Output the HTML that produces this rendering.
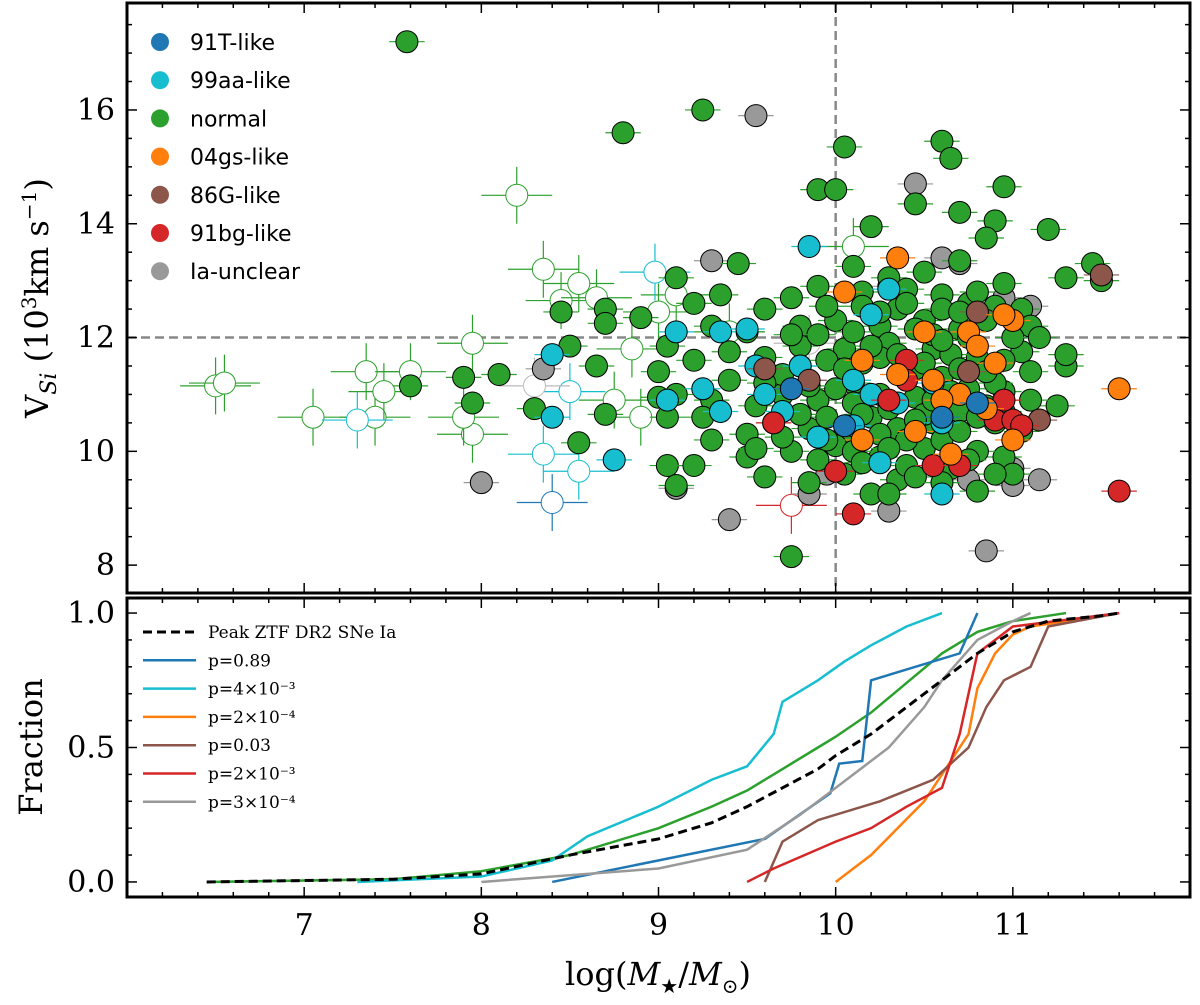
<!DOCTYPE html>
<html><head><meta charset="utf-8"><style>
body{margin:0;background:#fff}
svg text{font-family:"DejaVu Serif","Liberation Serif",serif}
</style></head><body>
<svg id="chart" width="1200" height="1000" xmlns="http://www.w3.org/2000/svg"></svg>
<script>
const xTicks=[7,8,9,10,11];
const yTopTicks=[8,10,12,14,16];
const yBotTicks=[0.0,0.5,1.0];
const yBotLabels=["0.0","0.5","1.0"];
const normalFilled=[[7.58,17.2],[9.25,16.0],[8.8,15.6],[10.05,15.35],[10.6,15.45],[10.65,15.15],[10.45,14.35],[10.7,14.2],[10.95,14.65],[9.9,14.6],[10.0,14.6],[10.2,13.95],[10.9,14.05],[11.2,13.9],[10.85,13.75],[11.3,13.05],[11.45,13.3],[11.5,13.0],[9.45,13.3],[9.1,13.05],[10.1,13.25],[10.3,13.05],[10.5,13.15],[10.7,13.35],[9.9,12.9],[10.15,12.8],[10.4,12.85],[10.6,12.75],[10.75,12.6],[10.9,12.55],[11.05,12.5],[9.2,12.6],[9.35,12.75],[9.6,12.5],[9.75,12.7],[8.45,12.45],[8.7,12.5],[8.9,12.35],[8.7,12.25],[9.3,12.2],[9.5,12.1],[9.8,12.2],[10.0,12.3],[10.25,12.2],[10.5,12.3],[10.7,12.15],[10.85,12.3],[11.1,12.2],[8.1,11.35],[7.9,11.3],[8.5,11.85],[8.65,11.5],[9.05,11.85],[9.2,11.6],[9.4,11.75],[9.6,11.65],[9.8,11.85],[10.05,11.8],[10.3,11.9],[10.55,11.8],[10.8,11.65],[11.05,11.75],[11.3,11.5],[11.3,11.7],[7.6,11.15],[7.95,10.85],[8.3,10.75],[8.55,10.15],[8.7,10.65],[9.0,11.4],[9.1,11.0],[9.3,10.9],[9.55,10.8],[9.7,11.0],[9.9,10.9],[10.1,11.2],[10.25,11.0],[10.45,10.95],[10.6,11.3],[10.75,11.1],[10.95,11.05],[11.25,10.8],[9.05,10.6],[9.25,10.6],[9.5,10.3],[9.65,10.5],[9.85,10.4],[10.05,10.3],[10.2,10.6],[10.35,10.4],[10.55,10.5],[10.7,10.7],[10.9,10.5],[11.05,10.35],[9.05,9.75],[9.1,9.4],[9.5,9.9],[9.6,9.55],[9.75,10.0],[9.85,9.45],[10.05,9.6],[10.25,9.9],[10.35,9.5],[10.5,10.05],[10.65,9.7],[10.8,9.3],[10.95,9.9],[11.0,9.6],[10.2,9.25],[10.3,9.25],[9.75,8.15],[9.2,9.75],[9.3,10.2],[10.0,10.1],[10.4,9.75],[10.6,10.2],[10.8,10.0],[9.8,11.5],[10.15,11.55],[10.45,11.45],[10.65,11.7],[10.9,11.2],[9.95,10.6],[10.1,10.85],[10.3,10.75],[10.5,10.65],[10.85,10.8],[9.9,12.05],[10.15,12.55],[10.35,12.5],[10.55,12.05],[9.7,11.35],[10.0,11.1],[10.25,11.65],[10.45,12.15],[10.75,12.0],[11.0,12.0],[10.1,10.0],[10.4,10.2],[10.7,10.35],[9.4,11.25],[9.6,11.2],[9.0,10.95],
[9.75,12.05],[9.95,11.6],[10.05,11.45],[10.2,11.85],[10.35,11.7],[10.5,11.55],[10.6,11.95],[10.7,11.45],[10.85,11.4],[10.95,11.6],[11.1,11.4],[9.85,11.15],[10.15,10.65],[10.25,10.3],[10.45,10.55],[10.55,10.9],[10.65,11.05],[10.8,10.6],[10.95,10.7],[11.1,10.9],[9.8,10.65],[9.95,10.2],[10.15,9.8],[10.3,10.05],[10.45,9.55],[10.6,9.45],[10.75,9.85],[10.9,9.6],[9.55,10.05],[9.7,10.25],[9.9,9.85],[10.25,12.45],[10.4,12.6],[10.6,12.5],[10.8,12.8],[10.95,12.95],[9.95,12.55],[10.1,12.1],[10.7,12.45],[11.15,12.0]];
const normalOpen=[[6.5,11.15],[6.55,11.2],[7.05,10.6],[7.4,10.6],[7.35,11.4],[7.45,11.05],[7.6,11.4],[7.95,11.9],[7.95,10.3],[7.9,10.6],[8.2,14.5],[8.35,13.2],[8.45,12.65],[8.55,12.95],[8.75,10.9],[8.85,11.8],[9.0,12.45],[9.1,12.75],[8.65,12.7],[9.4,12.1],[8.9,10.6],[10.1,13.6]];
const grayFilled=[[9.55,15.9],[10.45,14.7],[10.7,13.3],[9.3,13.35],[9.1,9.35],[9.4,8.8],[8.0,9.45],[9.95,9.6],[9.85,9.25],[10.3,8.95],[10.85,8.25],[11.15,9.5],[11.0,9.4],[10.75,9.5],[11.0,9.7],[10.95,12.7],[11.1,12.55],[10.6,13.4],[10.1,10.2],[10.3,12.9],[8.35,11.45]];
const grayOpen=[[8.3,11.15],[9.85,11.9]];
const cyanFilled=[[9.1,12.1],[9.35,12.1],[9.5,12.15],[9.55,11.5],[9.25,11.1],[9.05,10.9],[9.35,10.7],[9.6,11.0],[9.7,10.7],[9.85,13.6],[10.2,12.4],[10.3,12.85],[10.1,11.25],[10.2,11.0],[10.35,10.85],[9.9,10.25],[10.1,10.45],[10.25,9.8],[10.6,9.25],[10.55,11.2],[10.6,10.5],[8.4,11.7],[8.4,10.6],[8.75,9.85],[9.8,11.5]];
const cyanOpen=[[7.3,10.55],[8.35,9.95],[8.55,9.65],[8.5,11.05],[8.98,13.15]];
const blueFilled=[[9.75,11.1],[10.05,10.45],[10.6,10.6],[10.8,10.85]];
const blueOpen=[[8.4,9.1]];
const orangeFilled=[[10.05,12.8],[10.35,13.4],[10.5,12.1],[10.75,12.1],[10.8,11.85],[11.0,12.3],[10.95,12.4],[10.15,11.6],[10.35,11.35],[10.55,11.25],[10.9,11.55],[10.7,11.0],[10.85,10.75],[10.45,10.35],[10.65,9.95],[11.0,10.2],[10.15,10.2],[11.6,11.1],[10.6,10.9]];
const brownFilled=[[9.6,11.45],[9.85,11.25],[10.8,12.45],[10.75,11.4],[11.15,10.55],[11.5,13.1]];
const redFilled=[[9.65,10.5],[10.0,9.65],[10.1,8.9],[10.3,10.9],[10.4,11.6],[10.4,11.25],[10.55,9.75],[10.7,9.75],[10.9,10.55],[11.0,10.55],[11.05,10.45],[11.6,9.3],[10.95,10.9]];
const redOpen=[[9.75,9.05]];
const cdfAll=[[6.45,0],[7.5,0.01],[8.0,0.03],[8.5,0.1],[9.0,0.16],[9.3,0.22],[9.5,0.28],[9.7,0.35],[9.9,0.42],[10.0,0.47],[10.2,0.55],[10.4,0.65],[10.6,0.75],[10.8,0.85],[11.0,0.93],[11.2,0.97],[11.5,0.99],[11.6,1.0]];
const cdfNormal=[[6.45,0],[7.5,0.01],[8.0,0.04],[8.5,0.1],[9.0,0.2],[9.3,0.28],[9.5,0.34],[9.7,0.42],[9.9,0.5],[10.0,0.54],[10.2,0.63],[10.4,0.74],[10.6,0.85],[10.8,0.93],[11.0,0.97],[11.3,1.0]];
const cdf99aa=[[7.3,0],[8.0,0.02],[8.4,0.08],[8.6,0.17],[9.0,0.28],[9.3,0.38],[9.5,0.43],[9.65,0.55],[9.7,0.67],[9.9,0.75],[10.05,0.82],[10.2,0.88],[10.4,0.95],[10.6,1.0]];
const cdf91T=[[8.4,0],[9.6,0.16],[9.97,0.33],[10.02,0.44],[10.15,0.45],[10.2,0.75],[10.7,0.85],[10.8,1.0]];
const cdf04gs=[[10.0,0],[10.1,0.05],[10.2,0.1],[10.35,0.2],[10.5,0.3],[10.65,0.45],[10.75,0.55],[10.8,0.72],[10.9,0.85],[11.0,0.92],[11.1,0.95],[11.6,1.0]];
const cdf86G=[[9.6,0],[9.7,0.15],[9.9,0.23],[10.25,0.3],[10.55,0.38],[10.75,0.5],[10.85,0.65],[10.95,0.75],[11.1,0.8],[11.2,0.95],[11.6,1.0]];
const cdf91bg=[[9.5,0],[9.65,0.05],[10.0,0.15],[10.2,0.2],[10.4,0.28],[10.6,0.35],[10.7,0.55],[10.8,0.85],[10.9,0.9],[11.0,0.95],[11.6,1.0]];
const cdfUnclear=[[8.0,0],[9.0,0.05],[9.5,0.12],[9.8,0.25],[10.0,0.35],[10.3,0.5],[10.5,0.65],[10.6,0.75],[10.8,0.9],[11.0,0.97],[11.1,1.0]];
const legendTop=["91T-like","99aa-like","normal","04gs-like","86G-like","91bg-like","Ia-unclear"];
const legendBot=["Peak ZTF DR2 SNe Ia","p=0.89","p=4\u00d710\u207b\u00b3","p=2\u00d710\u207b\u2074","p=0.03","p=2\u00d710\u207b\u00b3","p=3\u00d710\u207b\u2074"];

const C={blue:"#1f77b4",cyan:"#17becf",green:"#2ca02c",orange:"#ff7f0e",brown:"#8c564b",red:"#d62728",gray:"#999999"};
const svg=document.getElementById('chart');const NS="http://www.w3.org/2000/svg";
function mk(t,a,p){const e=document.createElementNS(NS,t);for(const k in a)e.setAttribute(k,a[k]);(p||svg).appendChild(e);return e;}
const L=127,R=1190,T1=3,B1=593,T2=598,B2=897;
const X=v=>L+(v-6.0)/6.0*(R-L);
const Y1=v=>B1-(v-7.51)/(17.88-7.51)*(B1-T1);
const Y2=v=>B2-(v+0.056)/1.112*(B2-T2);

let g=mk('g',{});
mk('line',{x1:X(10),x2:X(10),y1:T1,y2:B1,stroke:'#888','stroke-width':2.5,'stroke-dasharray':'9,5'},g);
mk('line',{x1:L,x2:R,y1:Y1(12),y2:Y1(12),stroke:'#888','stroke-width':2.5,'stroke-dasharray':'9,5'},g);

function drawSet(arr,col,open,name){
  const gg=mk('g',{});
  arr.forEach(p=>{
    const cx=X(p[0]),cy=Y1(p[1]);const xe=open?0.2:0.1,ye=open?0.5:0.15;
    mk('line',{x1:X(p[0]-xe),x2:X(p[0]+xe),y1:cy,y2:cy,stroke:col,'stroke-width':1.2},gg);
    if(open)mk('line',{x1:cx,x2:cx,y1:Y1(p[1]-ye),y2:Y1(p[1]+ye),stroke:col,'stroke-width':1.2},gg);
    const c=mk('circle',{cx:cx,cy:cy,r:11,fill:open?'#fff':col,stroke:open?col:'#000','stroke-width':1},gg);
    
    
  });
}
drawSet(normalOpen,C.green,true,'normal-open');
drawSet(cyanOpen,C.cyan,true,'99aa-open');
drawSet(blueOpen,C.blue,true,'91T-open');
drawSet(redOpen,C.red,true,'91bg-open');
drawSet(grayOpen,'#bbb',true,'unclear-open');
drawSet(grayFilled,C.gray,false,'unclear');
drawSet(normalFilled,C.green,false,'normal');
drawSet(cyanFilled,C.cyan,false,'99aa');
drawSet(brownFilled,C.brown,false,'86G');
drawSet(redFilled,C.red,false,'91bg');
drawSet(orangeFilled,C.orange,false,'04gs');
drawSet(blueFilled,C.blue,false,'91T');

const cdfs=[[cdfNormal,C.green,'cdf-normal'],[cdf99aa,C.cyan,'cdf-99aa'],[cdf91T,C.blue,'cdf-91T'],[cdf04gs,C.orange,'cdf-04gs'],[cdf86G,C.brown,'cdf-86G'],[cdf91bg,C.red,'cdf-91bg'],[cdfUnclear,C.gray,'cdf-unclear']];
cdfs.forEach(c=>{const p=mk('polyline',{points:c[0].map(q=>X(q[0])+','+Y2(q[1])).join(' '),fill:'none',stroke:c[1],'stroke-width':2.5});
});
let pa=mk('polyline',{points:cdfAll.map(q=>X(q[0])+','+Y2(q[1])).join(' '),fill:'none',stroke:'#000','stroke-width':3,'stroke-dasharray':'9,5'});


[[T1,B1,'top-panel-frame'],[T2,B2,'bottom-panel-frame']].forEach(f=>{const r=mk('rect',{x:L,y:f[0],width:R-L,height:f[1]-f[0],fill:'none',stroke:'#000','stroke-width':3});});
for(let v=6.2;v<12;v+=0.2){const major=Math.abs(v-Math.round(v))<0.01;const l=major?10:5;const x=X(v);
 [[T1,1],[B1,-1],[T2,1],[B2,-1]].forEach(s=>mk('line',{x1:x,x2:x,y1:s[0],y2:s[0]+s[1]*l,stroke:'#000','stroke-width':1.5}));}
for(let v=8;v<=17.5;v+=0.5){const major=Math.abs(v%2)<0.01;const l=major?10:5;const y=Y1(v);
 mk('line',{x1:L,x2:L+l,y1:y,y2:y,stroke:'#000','stroke-width':1.5});mk('line',{x1:R,x2:R-l,y1:y,y2:y,stroke:'#000','stroke-width':1.5});}
for(let v=0;v<=1.001;v+=0.1){const major=Math.abs(v*2-Math.round(v*2))<0.01;const l=major?10:5;const y=Y2(v);
 mk('line',{x1:L,x2:L+l,y1:y,y2:y,stroke:'#000','stroke-width':1.5});mk('line',{x1:R,x2:R-l,y1:y,y2:y,stroke:'#000','stroke-width':1.5});}
xTicks.forEach(v=>{const t=mk('text',{x:X(v),y:935,'font-size':30,'text-anchor':'middle'});t.textContent=v;});
yTopTicks.forEach(v=>{const t=mk('text',{x:L-12,y:Y1(v)+10,'font-size':30,'text-anchor':'end'});t.textContent=v;});
yBotTicks.forEach((v,i)=>{const t=mk('text',{x:L-12,y:Y2(v)+10,'font-size':30,'text-anchor':'end'});t.textContent=yBotLabels[i];});
let t=mk('text',{x:658,y:985,'font-size':32,'text-anchor':'middle'});t.innerHTML='log(<tspan font-style="italic">M</tspan><tspan font-size="20" dy="8">★</tspan><tspan dy="-8">/</tspan><tspan font-style="italic">M</tspan><tspan font-size="20" dy="8">⊙</tspan><tspan dy="-8">)</tspan>';

t=mk('text',{transform:'translate(48,298) rotate(-90)','font-size':32,'text-anchor':'middle'});t.innerHTML='V<tspan font-size="22" dy="8" font-style="italic">Si</tspan><tspan dy="-8"> (10</tspan><tspan font-size="20" dy="-12">3</tspan><tspan dy="12">km s</tspan><tspan font-size="20" dy="-12">−1</tspan><tspan dy="12">)</tspan>';

t=mk('text',{transform:'translate(42,747) rotate(-90)','font-size':32,'text-anchor':'middle'});t.textContent='Fraction';

const topCols=[C.blue,C.cyan,C.green,C.orange,C.brown,C.red,C.gray];
legendTop.forEach((s,i)=>{const y=42+i*38.2;const gg=mk('g',{});
 mk('circle',{cx:160,cy:y,r:9,fill:topCols[i]},gg);
 const tt=mk('text',{x:190,y:y+8,'font-size':22,style:'font-family:"DejaVu Sans",sans-serif'},gg);tt.textContent=s;});
const botCols=['#000',C.blue,C.cyan,C.orange,C.brown,C.red,C.gray];
legendBot.forEach((s,i)=>{const y=632+i*28.3;const gg=mk('g',{});
 const a={x1:143,x2:196,y1:y,y2:y,stroke:botCols[i],'stroke-width':i==0?3:2.5};if(i==0)a['stroke-dasharray']='9,5';mk('line',a,gg);
 const tt=mk('text',{x:208,y:y+6,'font-size':17},gg);tt.textContent=s;});
</script>
</body></html>
